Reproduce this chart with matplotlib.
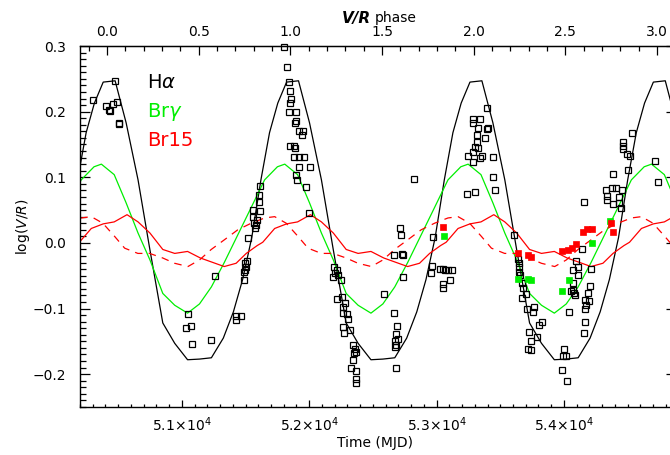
import numpy as np
import matplotlib
matplotlib.use("Agg")
import matplotlib.pyplot as plt
from matplotlib.ticker import MultipleLocator, FuncFormatter

plt.rcParams['font.family'] = ['DejaVu Sans']
plt.rcParams['mathtext.fontset'] = 'dejavusans'

# V/R ephemeris (phase 0 epoch and period, days)
T0 = 50411.0
PERIOD = 1440.0
cycles = [-1, 0, 1, 2, 3]

# Model templates (one cycle)
ha_model_phase = [-0.02, 0.045, 0.105, 0.17, 0.235, 0.305, 0.37, 0.44, 0.505, 0.57,
                  0.635, 0.69, 0.74, 0.79, 0.84, 0.887, 0.932]
ha_model_val = [0.245, 0.247, 0.183, 0.096, -0.011, -0.122, -0.153, -0.178, -0.177, -0.175,
                -0.145, -0.105, -0.056, 0.008, 0.096, 0.168, 0.213]

brg_model_phase = [-0.03, 0.04, 0.105, 0.17, 0.235, 0.305, 0.37, 0.44, 0.505, 0.57,
                   0.64, 0.71, 0.78, 0.86, 0.93]
brg_model_val = [0.120, 0.104, 0.061, 0.015, -0.026, -0.077, -0.095, -0.107, -0.093, -0.067,
                 -0.030, 0.010, 0.050, 0.096, 0.116]

br15_model_phase = [-0.085, -0.02, 0.04, 0.11, 0.17, 0.235, 0.305, 0.37, 0.44, 0.51,
                    0.57, 0.64, 0.705, 0.76, 0.82, 0.85]
br15_model_val = [0.022, 0.029, 0.032, 0.043, 0.032, 0.015, -0.010, -0.016, -0.013, -0.023,
                  -0.029, -0.036, -0.031, -0.016, -0.004, 0.001]

br15b_model_phase = [-0.085, -0.022, 0.042, 0.097, 0.169, 0.233, 0.305, 0.369, 0.442, 0.505,
                     0.569, 0.642, 0.714, 0.787, 0.86]
br15b_model_val = [0.040, 0.030, 0.010, -0.008, -0.016, -0.016, -0.023, -0.031, -0.036, -0.026,
                   -0.010, 0.005, 0.020, 0.030, 0.038]

# Observations: H-alpha
ha_mjd = [50306, 50405, 50424, 50437, 50456, 50476, 50492, 50503, 50508,
          51034, 51047, 51073, 51081, 51225, 51257,
          51427, 51466, 51427, 51485, 51492, 51505, 51495, 51513, 51487, 51521,
          51555, 51560, 51568, 51576, 51583, 51590, 51613, 51605, 51605, 51613,
          51801, 51822, 51840, 51848, 51854, 51848, 51840, 51895, 51887, 51895,
          51919, 51953, 51945, 51848, 51880, 51887, 51882, 51921, 51961, 51919,
          52005, 51895, 51906, 51972, 51998,
          52194, 52202, 52215, 52228, 52189, 52247, 52215, 52254, 52280, 52262,
          52262, 52294, 52307, 52267, 52273, 52320, 52341, 52359, 52367, 52351,
          52341, 52327, 52367, 52367, 52364,
          52712, 52718, 52665, 52726, 52734, 52734, 52587, 52668, 52691, 52681,
          52694, 52673, 52681, 52676, 52681, 52825,
          52974, 52961, 52953, 53026, 53052, 53066, 53092, 53118, 53105, 53048, 53048,
          53249, 53236,
          53283, 53341, 53283, 53327, 53406, 53393, 53315, 53380, 53320, 53302,
          53327, 53283, 53354, 53341, 53441, 53288, 53398, 53441, 53302, 53459,
          53610, 53637, 53645, 53650, 53650, 53655, 53668, 53681, 53702, 53668,
          53765, 53712, 53755, 53825, 53806, 53728, 53791, 53741, 53720, 53739,
          54001, 53990, 54014, 53987, 54022,
          54043, 54054, 54074, 54080, 54087, 54074, 54069, 54095, 54113, 54113,
          54140, 54166, 54173, 54166, 54166, 54158, 54192, 54200, 54205, 54210,
          54158, 54331, 54375, 54409, 54341, 54336, 54384, 54436, 54436, 54447,
          54455, 54389, 54507, 54497, 54518, 54466, 54466, 54461, 54532, 54715, 54741]
ha_logvr = [0.218, 0.209, 0.202, 0.201, 0.211, 0.247, 0.215, 0.181, 0.183,
            -0.129, -0.108, -0.127, -0.154, -0.148, -0.051,
            -0.111, -0.111, -0.118, -0.057, -0.041, -0.036, -0.031, -0.028, -0.044, 0.007,
            0.050, 0.040, 0.030, 0.023, 0.027, 0.035, 0.048, 0.063, 0.073, 0.087,
            0.299, 0.268, 0.245, 0.232, 0.219, 0.213, 0.200, 0.200, 0.183, 0.185,
            0.170, 0.170, 0.165, 0.147, 0.147, 0.144, 0.131, 0.131, 0.131, 0.116,
            0.116, 0.104, 0.096, 0.085, 0.045,
            -0.037, -0.046, -0.041, -0.049, -0.052, -0.056, -0.086, -0.082, -0.092, -0.097,
            -0.107, -0.108, -0.116, -0.128, -0.137, -0.132, -0.156, -0.161, -0.166, -0.168,
            -0.179, -0.191, -0.195, -0.208, -0.213,
            0.022, 0.012, -0.018, -0.017, -0.019, -0.052, -0.078, -0.107, -0.127, -0.139,
            -0.147, -0.150, -0.156, -0.159, -0.191, 0.097,
            0.009, -0.035, -0.046, -0.039, -0.040, -0.041, -0.042, -0.041, -0.057, -0.063, -0.068,
            0.132, 0.075,
            0.189, 0.189, 0.183, 0.175, 0.175, 0.173, 0.165, 0.160, 0.154, 0.146,
            0.144, 0.138, 0.132, 0.129, 0.131, 0.124, 0.205, 0.100, 0.077, 0.080,
            0.012, -0.025, -0.030, -0.037, -0.045, -0.049, -0.061, -0.069, -0.078, -0.084,
            -0.098, -0.101, -0.106, -0.120, -0.125, -0.135, -0.144, -0.150, -0.162, -0.163,
            -0.162, -0.173, -0.173, -0.194, -0.211,
            -0.105, -0.074, -0.072, -0.076, -0.079, -0.061, -0.042, -0.028, -0.036, -0.049,
            -0.010, -0.087, -0.095, -0.100, -0.120, -0.137, -0.076, -0.088, -0.066, -0.040,
            0.063, 0.080, 0.083, 0.083, 0.071, 0.066, 0.060, 0.070, 0.061, 0.053,
            0.081, 0.105, 0.111, 0.136, 0.133, 0.143, 0.148, 0.154, 0.167, 0.125, 0.093]

# Observations: Br-gamma
brg_mjd = [53061, 53637, 53720, 53741, 53983, 54040, 54219, 54365]
brg_logvr = [0.010, -0.055, -0.055, -0.056, -0.073, -0.056, 0.000, 0.033]

# Observations: Br15
br15_mjd = [53053, 53637, 53720, 53739, 53983, 54035, 54066, 54095, 54148, 54179,
            54219, 54368, 54384]
br15_logvr = [0.025, -0.016, -0.018, -0.022, -0.013, -0.011, -0.007, -0.002, 0.017, 0.021,
              0.021, 0.031, 0.017]

legend_labels = [r'H$\alpha$', r'Br$\gamma$', 'Br15']
GREEN = '#00ee00'
RED = '#ff0000'


def tile(phase, val):
    ph = np.asarray(phase, float)
    x = np.concatenate([T0 + (ph + c) * PERIOD for c in cycles])
    y = np.tile(np.asarray(val, float), len(cycles))
    return x, y


fig = plt.figure(figsize=(6.70, 4.55), dpi=100)
ax = fig.add_axes([80 / 670, 1 - 407 / 455, (676 - 80) / 670, (407 - 46) / 455])

x, y = tile(ha_model_phase, ha_model_val)
ax.plot(x, y, color='black', lw=0.9)
x, y = tile(brg_model_phase, brg_model_val)
ax.plot(x, y, color=GREEN, lw=0.9)
x, y = tile(br15_model_phase, br15_model_val)
ax.plot(x, y, color=RED, lw=0.9)
x, y = tile(br15b_model_phase, br15b_model_val)
ax.plot(x, y, color=RED, lw=0.9, dashes=(6, 5))

ax.plot(ha_mjd, ha_logvr, ls='none', marker='s', ms=4.6, mfc='none', mec='black', mew=0.9,
        clip_on=False)
ax.plot(brg_mjd, brg_logvr, ls='none', marker='s', ms=5.0, mfc=GREEN, mec=GREEN, mew=0.5)
ax.plot(br15_mjd, br15_logvr, ls='none', marker='s', ms=5.0, mfc=RED, mec=RED, mew=0.5)

ax.set_xlim(50200, 54880)
ax.set_ylim(-0.25, 0.30)

ax.xaxis.set_major_locator(MultipleLocator(1000))
ax.xaxis.set_minor_locator(MultipleLocator(100))
ax.xaxis.set_major_formatter(FuncFormatter(lambda v, p: r'$%.1f\!\times\!10^{4}$' % (v / 1e4)))
ax.yaxis.set_major_locator(MultipleLocator(0.1))
ax.yaxis.set_minor_locator(MultipleLocator(0.01))
ax.yaxis.set_major_formatter(FuncFormatter(lambda v, p: ('%.1f' % v).replace('-', '\u2212')))

ax.tick_params(axis='x', which='major', direction='in', length=5, width=0.9,
               top=False, labelsize=10, pad=6)
ax.tick_params(axis='x', which='minor', direction='in', length=2.5, width=0.9, top=False)
ax.tick_params(axis='y', which='major', direction='in', length=7.5, width=0.9,
               right=True, labelsize=10, pad=10)
ax.tick_params(axis='y', which='minor', direction='in', length=4.5, width=0.9, right=True)
for s in ax.spines.values():
    s.set_linewidth(1.0)

sec = ax.secondary_xaxis('top', functions=(lambda m: (m - T0) / PERIOD,
                                           lambda p: p * PERIOD + T0))
sec.xaxis.set_major_locator(MultipleLocator(0.5))
sec.xaxis.set_minor_locator(MultipleLocator(0.1))
sec.xaxis.set_major_formatter(FuncFormatter(lambda v, p: '%.1f' % v))
sec.tick_params(which='major', direction='in', length=6.5, width=0.9, labelsize=10, pad=5)
sec.tick_params(which='minor', direction='in', length=3.5, width=0.9)

fig.text(375 / 670, 1 - 443 / 455, 'Time (MJD)', ha='center', va='center', fontsize=10)
ax.set_ylabel(r'log($V/R$)', fontsize=10, labelpad=0)
fig.text(371 / 670, 1 - 18 / 455, 'V/R', ha='right', va='center', fontsize=11,
         fontstyle='italic', fontweight='bold')
fig.text(375 / 670, 1 - 18 / 455, 'phase', ha='left', va='center', fontsize=10)

colors = ['black', GREEN, RED]
for i, (lab, c) in enumerate(zip(legend_labels, colors)):
    fig.text(147 / 670, 1 - (83 + 29 * i) / 455, lab, color=c, fontsize=14,
             ha='left', va='center')

fig.savefig('out.png', dpi=100)
